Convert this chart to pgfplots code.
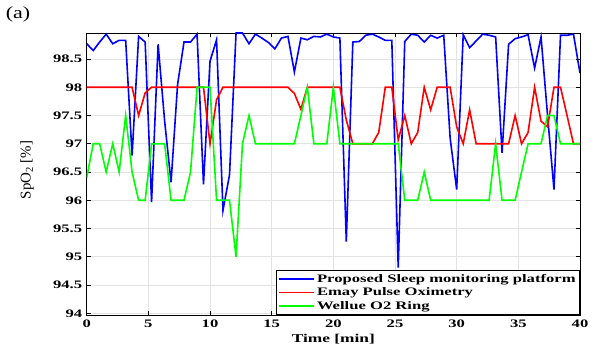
\documentclass[border=0pt]{standalone}
\usepackage{fontspec}
\setmainfont{Liberation Serif}[FakeStretch=1.45]
\newfontfamily\plainserif{Liberation Serif}
\newfontfamily\wideserif{Liberation Serif}[FakeStretch=1.3]
\usepackage{pgfplots}
\pgfplotsset{compat=1.18}
\usepackage{pgfplotstable}

\pgfplotstableread{
x blue red green
0.00 98.77 98 96.4
0.53 98.65 98 97
1.05 98.80 98 97
1.58 98.94 98 96.5
2.11 98.77 98 97
2.63 98.83 98 96.5
3.16 98.83 98 97.5
3.68 96.79 98 96.5
4.21 98.90 97.5 96
4.74 98.80 97.9 96
5.26 95.97 98 97
5.79 98.76 98 97
6.32 97.40 98 97
6.84 96.32 98 96
7.37 98.05 98 96
7.89 98.80 98 96
8.42 98.80 98 96.5
8.95 98.94 98 98
9.47 96.28 98 98
10.00 98.46 97 98
10.53 98.84 97.78 96
11.05 95.82 98 96
11.58 96.45 98 96
12.11 98.96 98 95
12.63 98.96 98 97
13.16 98.77 98 97.5
13.68 98.94 98 97
14.21 98.87 98 97
14.74 98.79 98 97
15.26 98.68 98 97
15.79 98.87 98 97
16.32 98.90 98 97
16.84 98.27 97.89 97
17.37 98.87 97.61 97.5
17.89 98.84 98 98
18.42 98.90 98 97
18.95 98.89 98 97
19.47 98.94 98 97
20.00 98.89 98 98
20.53 98.87 98 97
21.05 95.27 97.42 97
21.58 98.80 97 97
22.11 98.81 97 97
22.63 98.92 97 97
23.16 98.94 97 97
23.68 98.89 97.2 97
24.21 98.83 98 97
24.74 98.83 98 97
25.26 94.81 97.07 97
25.79 98.81 97.5 96
26.32 98.94 97 96
26.84 98.92 97.2 96
27.37 98.80 98 96.5
27.89 98.92 97.6 96
28.42 98.87 98 96
28.95 98.92 98 96
29.47 97.10 98 96
30.00 96.19 97.3 96
30.53 98.93 97 96
31.05 98.70 97.6 96
31.58 98.82 97 96
32.11 98.94 97 96
32.63 98.92 97 96
33.16 98.89 97 97
33.68 96.84 97 96
34.21 98.76 97 96
34.74 98.86 97.5 96
35.26 98.89 97 96.5
35.79 98.93 97.2 97
36.32 98.34 98 97
36.84 98.89 97.4 97
37.37 97.50 97.3 97.5
37.89 96.19 98 97.5
38.42 98.92 98 97
38.95 98.92 97.5 97
39.47 98.94 97 97
40.00 98.25 97 97
}\spodata

\begin{document}
\begin{tikzpicture}
\begin{axis}[
  scale only axis, width=493.3bp, height=282bp,
  xmin=0, xmax=40, ymin=93.97, ymax=98.96,
  xtick={0,5,...,40}, ytick={94,94.5,...,98.5},
  tick align=inside, major tick length=4bp,
  grid=major, grid style={gray!22, line width=0.8bp},
  axis line style={black, line width=0.9bp},
  tick style={black, line width=0.8bp},
  /pgf/number format/assume math mode=true,
  ticklabel style={font=\fontsize{11.5}{13}\selectfont\bfseries},
  xticklabel style={yshift=-1bp},
  yticklabel style={xshift=-1bp},
  xlabel={Time [min]},
  xlabel style={font=\fontsize{12}{14}\selectfont\bfseries, at={(axis description cs:0.5,-0.085)}, anchor=center},
  ylabel={SpO\textsubscript{2} [\%]},
  ylabel style={font=\plainserif\fontsize{15}{17}\selectfont, at={(axis description cs:-0.121,0.514)}, anchor=center},
  legend style={at={(rel axis cs:1,0)}, anchor=south east, font=\fontsize{11.5}{13}\selectfont\bfseries, draw=black, line width=0.8bp, inner sep=2bp, row sep=0bp, cells={anchor=west}},
  legend image code/.code={\draw[#1, line width=1.5bp] (0bp,0bp) -- (35bp,0bp);},
  legend cell align=left,
]
\addplot[blue, line width=1.6bp] table[x=x, y=blue] {\spodata};
\addlegendentry{Proposed Sleep monitoring platform}
\addplot[red, line width=1.6bp] table[x=x, y=red] {\spodata};
\addlegendentry{Emay Pulse Oximetry}
\addplot[green, line width=1.6bp] table[x=x, y=green] {\spodata};
\addlegendentry{Wellue O2 Ring}
\end{axis}
\node[font=\wideserif\fontsize{17}{19}\selectfont] at (-68.7bp,301bp) {(a)};
\path (-86.7bp,-34bp) rectangle (508.3bp,315bp);
\end{tikzpicture}
\end{document}
